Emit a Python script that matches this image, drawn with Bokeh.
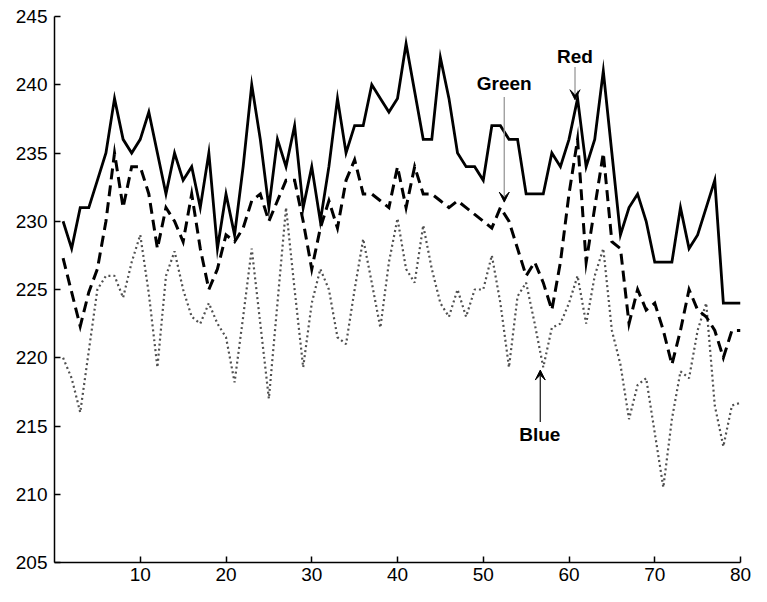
from bokeh.plotting import figure
from bokeh.models import Label, Arrow, VeeHead, FixedTicker, Range1d
from bokeh.embed import file_html
from bokeh.resources import INLINE

# ---- data ----
xs = list(range(1, 81))

red = [230, 228, 231, 231, 233, 235, 239, 236, 235, 236,
       238, 235, 232, 235, 233, 234, 231, 235, 228, 232,
       229, 234, 240, 236, 231, 236, 234, 237, 231, 234,
       230, 234, 239, 235, 237, 237, 240, 239, 238, 239,
       243, 239.5, 236, 236, 242, 239, 235, 234, 234, 233,
       237, 237, 236, 236, 232, 232, 232, 235, 234, 236,
       239, 234, 236, 241, 235, 229, 231, 232, 230, 227,
       227, 227, 231, 228, 229, 231, 233, 224, 224, 224]

green = [227.3, 224.8, 222.3, 224.8, 226.5, 230, 235, 231, 234, 234,
         232, 228, 231, 230, 228.5, 232, 228, 225, 226.5, 229,
         228.5, 229.5, 231.5, 232, 230, 231.5, 233, 233, 230, 226.5,
         229.5, 231.5, 229.5, 233, 234.5, 232, 232, 231.5, 231, 234,
         231, 234, 232, 232, 231.5, 231, 231.5, 231, 230.5, 230,
         229.5, 231, 230, 228, 226, 227, 225.5, 223.5, 227, 232,
         236, 227, 231, 235, 228.5, 228, 222.5, 225, 223.5, 224,
         222, 219.5, 222, 225, 223.5, 223, 222, 220, 222, 222]

blue = [220, 218.5, 216, 220.5, 225, 226, 226, 224.4, 227, 229,
        224.7, 219.3, 226, 227.8, 225, 223, 222.5, 224, 222.5, 221.5,
        218.2, 223, 228, 222.5, 217, 224, 231, 225, 219.3, 224,
        226.5, 225, 221.5, 221, 225, 228.7, 225.5, 222.2, 227, 230.2,
        226.5, 225.5, 229.7, 226.5, 224, 223, 225, 223, 225, 225,
        227.5, 224, 219.3, 224.5, 225.5, 222.5, 219.3, 222.2, 222.5, 224,
        226, 222.5, 226, 228, 222, 219.5, 215.5, 218, 218.5, 214.5,
        210.5, 215.5, 219, 218.5, 222, 224, 216.5, 213.5, 216.5, 216.7]

x_ticks = [10, 20, 30, 40, 50, 60, 70, 80]
y_ticks = [205, 210, 215, 220, 225, 230, 235, 240, 245]

FONT = "Liberation Sans"

p = figure(width=751, height=586,
           x_range=Range1d(0, 80), y_range=Range1d(205, 245),
           output_backend="svg", toolbar_location=None,
           min_border_left=54, min_border_right=11,
           min_border_top=16, min_border_bottom=24)

p.xgrid.visible = False
p.ygrid.visible = False
p.outline_line_color = None
p.background_fill_color = "white"
p.border_fill_color = "white"

p.xaxis.ticker = FixedTicker(ticks=x_ticks)
p.yaxis.ticker = FixedTicker(ticks=y_ticks)
for ax in (p.xaxis, p.yaxis):
    ax.major_tick_in = 6
    ax.major_tick_out = 0
    ax.minor_tick_line_color = None
    ax.axis_line_width = 1.5
    ax.axis_line_color = "black"
    ax.major_tick_line_width = 1.5
    ax.major_tick_line_color = "black"
    ax.major_label_text_font = FONT
    ax.major_label_text_font_size = "19px"
    ax.major_label_text_color = "black"
p.yaxis.major_label_standoff = 7
p.xaxis.major_label_standoff = 5

# series
p.line(xs, blue, line_color="#505050", line_width=2.2, line_dash="2 3")
p.line(xs, green, line_color="black", line_width=3, line_dash="11 6",
       line_join="miter")
p.line(xs, red, line_color="black", line_width=2.8, line_join="miter")

# annotations
def note(text, x, y):
    p.add_layout(Label(x=x, y=y, text=text, text_align="center",
                       text_baseline="middle", text_font=FONT,
                       text_font_size="19px", text_font_style="bold",
                       text_color="black"))

def arrow(x0, y0, x1, y1, color):
    p.add_layout(Arrow(end=VeeHead(size=10, fill_color="black",
                                   line_color="black", line_width=1),
                       x_start=x0, y_start=y0, x_end=x1, y_end=y1,
                       line_color=color, line_width=1.3))

note("Red", 60.7, 242.1)
arrow(60.7, 241.3, 60.7, 238.9, "#999999")
note("Green", 52.45, 240.06)
arrow(52.45, 239.1, 52.45, 231.4, "#999999")
note("Blue", 56.6, 214.4)
arrow(56.65, 215.3, 56.65, 219.1, "#222222")

open("out.html", "w").write(file_html(p, INLINE))
